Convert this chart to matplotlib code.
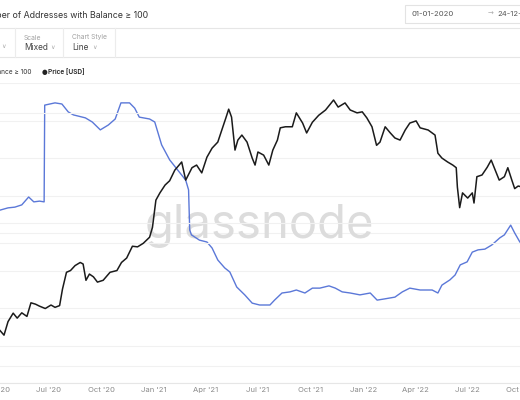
import numpy as np
import pandas as pd
import matplotlib
matplotlib.use("Agg")
import matplotlib.pyplot as plt
import matplotlib.dates as mdates
from matplotlib.ticker import FixedLocator, NullFormatter

plt.rcParams["font.family"] = ["Inter", "DejaVu Sans"]

# Addresses with balance >= 100 (left axis, linear)
addr_dates = [
    "2020-04-07", "2020-04-21", "2020-05-03", "2020-05-15", "2020-05-27", "2020-06-05",
    "2020-06-15", "2020-06-23", "2020-06-24", "2020-07-12", "2020-07-24", "2020-08-04",
    "2020-08-13", "2020-09-03", "2020-09-15", "2020-09-29", "2020-10-13", "2020-10-25",
    "2020-11-04", "2020-11-19", "2020-11-28", "2020-12-06", "2020-12-24", "2021-01-02",
    "2021-01-14", "2021-01-28", "2021-02-11", "2021-02-25", "2021-03-02", "2021-03-04",
    "2021-03-07", "2021-03-21", "2021-04-03", "2021-04-12", "2021-04-22", "2021-05-04",
    "2021-05-13", "2021-05-25", "2021-06-08", "2021-06-21", "2021-07-04", "2021-07-22",
    "2021-07-30", "2021-08-12", "2021-08-26", "2021-09-06", "2021-09-21", "2021-10-04",
    "2021-10-17", "2021-11-02", "2021-11-13", "2021-11-25", "2021-12-09", "2021-12-26",
    "2022-01-13", "2022-01-25", "2022-02-06", "2022-02-25", "2022-03-10", "2022-03-23",
    "2022-04-10", "2022-05-01", "2022-05-11", "2022-05-18", "2022-06-01", "2022-06-10",
    "2022-06-19", "2022-07-01", "2022-07-10", "2022-07-20", "2022-08-01", "2022-08-13",
    "2022-08-27", "2022-09-04", "2022-09-15", "2022-09-22", "2022-10-01",
]
addr_values = [
    45610, 45670, 45690, 45750, 45960, 45830,
    45850, 45830, 48410, 48470, 48440, 48230,
    48150, 48070, 47960, 47750, 47880, 48040,
    48470, 48470, 48330, 48090, 48040, 47960,
    47350, 46950, 46680, 46410, 46150, 45080,
    44950, 44810, 44760, 44600, 44280, 44070,
    43960, 43560, 43350, 43130, 43080, 43080,
    43210, 43400, 43430, 43480, 43400, 43530,
    43530, 43590, 43530, 43430, 43400, 43350,
    43400, 43210, 43240, 43290, 43430, 43530,
    43480, 43480, 43400, 43610, 43750, 43880,
    44150, 44230, 44490, 44550, 44570, 44680,
    44870, 44950, 45210, 45000, 44760,
]

# Price [USD] (right axis, log)
price_dates = [
    "2020-04-07", "2020-04-14", "2020-04-21", "2020-04-30", "2020-05-07", "2020-05-15",
    "2020-05-24", "2020-05-31", "2020-06-08", "2020-06-15", "2020-06-25", "2020-07-05",
    "2020-07-12", "2020-07-20", "2020-07-25", "2020-08-01", "2020-08-08", "2020-08-16",
    "2020-08-25", "2020-08-30", "2020-09-04", "2020-09-10", "2020-09-17", "2020-09-24",
    "2020-10-04", "2020-10-16", "2020-10-28", "2020-11-05", "2020-11-14", "2020-11-24",
    "2020-12-03", "2020-12-13", "2020-12-24", "2020-12-29", "2021-01-04", "2021-01-11",
    "2021-01-20", "2021-01-28", "2021-02-06", "2021-02-18", "2021-02-25", "2021-03-08",
    "2021-03-16", "2021-03-25", "2021-04-03", "2021-04-12", "2021-04-22", "2021-04-29",
    "2021-05-06", "2021-05-11", "2021-05-16", "2021-05-22", "2021-05-27", "2021-06-03",
    "2021-06-12", "2021-06-21", "2021-06-26", "2021-07-01", "2021-07-11", "2021-07-20",
    "2021-07-27", "2021-08-04", "2021-08-09", "2021-08-18", "2021-08-30", "2021-09-06",
    "2021-09-17", "2021-09-24", "2021-10-04", "2021-10-15", "2021-10-27", "2021-11-10",
    "2021-11-18", "2021-11-30", "2021-12-09", "2021-12-21", "2021-12-30", "2022-01-07",
    "2022-01-16", "2022-01-24", "2022-01-30", "2022-02-08", "2022-02-17", "2022-02-25",
    "2022-03-06", "2022-03-15", "2022-03-23", "2022-04-03", "2022-04-10", "2022-04-24",
    "2022-05-06", "2022-05-11", "2022-05-18", "2022-05-28", "2022-06-06", "2022-06-12",
    "2022-06-14", "2022-06-18", "2022-06-23", "2022-07-02", "2022-07-10", "2022-07-13",
    "2022-07-18", "2022-07-27", "2022-08-05", "2022-08-12", "2022-08-19", "2022-08-26",
    "2022-09-04", "2022-09-10", "2022-09-17", "2022-09-22", "2022-09-28", "2022-10-06",
]
price_values = [
    167, 156, 190, 215, 200, 216,
    205, 250, 245, 238, 230, 242,
    234, 240, 305, 390, 400, 430,
    450, 440, 347, 380, 365, 338,
    347, 390, 400, 450, 480, 570,
    565, 595, 650, 750, 1116, 1240,
    1390, 1480, 1728, 1945, 1494, 1790,
    1860, 1660, 2085, 2380, 2600, 3100,
    3690, 4200, 3740, 2314, 2677, 2880,
    2600, 2060, 1860, 2250, 2150, 1860,
    2314, 2677, 3200, 3250, 3250, 3980,
    3430, 2970, 3470, 3840, 4150, 4800,
    4330, 4600, 4150, 3980, 4040, 3700,
    3250, 2480, 2600, 3250, 2970, 2760,
    2677, 3100, 3430, 3540, 3200, 3100,
    2880, 2210, 2060, 1945, 1860, 1790,
    1350, 1000, 1240, 1150, 1240, 1070,
    1570, 1610, 1800, 2000, 1728, 1494,
    1570, 1790, 1494, 1320, 1370, 1350,
]

addr_grid = [41000, 42000, 43000, 44000, 45000, 46000, 47000, 48000, 49000]
price_grid = [100, 200, 600, 800, 4000]

W, H = 520, 400
def fx(px):
    return px / W
def fy(py):
    return 1 - py / H

fig = plt.figure(figsize=(5.2, 4.0), dpi=100)

# plot area (cropped on both sides like the screenshot)
left_px, right_px = -55.6, 568.0
ax = fig.add_axes([fx(left_px), fy(383), (right_px - left_px) / W, 300 / H])
ax2 = ax.twinx()

blue = "#5b78d8"
ax.plot(pd.to_datetime(addr_dates), addr_values, color=blue, lw=1.0, zorder=3)
ax2.plot(pd.to_datetime(price_dates), price_values, color="#1b1b1b", lw=1.1, zorder=3)

ax.set_xlim(pd.Timestamp("2020-01-01"), pd.Timestamp("2022-12-24"))
ax.set_ylim(41000, 49000)
ax2.set_yscale("log")
ax2.set_ylim(77.7, 6150)

ax.yaxis.set_major_locator(FixedLocator(addr_grid))
ax2.yaxis.set_major_locator(FixedLocator(price_grid))
ax2.yaxis.set_minor_locator(FixedLocator([]))
for a in (ax, ax2):
    a.yaxis.set_major_formatter(NullFormatter())
    a.yaxis.set_minor_formatter(NullFormatter())
    a.tick_params(axis="y", length=0)
    a.grid(axis="y", color="#f1f1f1", lw=0.8)
    a.set_axisbelow(True)
    for s in ("left", "right", "top"):
        a.spines[s].set_visible(False)
ax2.spines["bottom"].set_visible(False)
ax.spines["bottom"].set_color("#e6e6e6")
ax.spines["bottom"].set_linewidth(0.8)

ax.xaxis.set_major_locator(mdates.MonthLocator(bymonth=[1, 4, 7, 10]))
ax.xaxis.set_major_formatter(mdates.DateFormatter("%b '%y"))
ax.tick_params(axis="x", length=0, pad=3, labelsize=5.5, labelcolor="#8a8a8a")

# watermark
ax.text(fx(259), fy(226), "glassnode", transform=fig.transFigure, ha="center", va="center",
        fontsize=34, color="#dcdcdc", zorder=1)

# header
fig.text(fx(148), fy(15), "Number of Addresses with Balance \u2265 100", ha="right", va="center",
         fontsize=6.3, color="#333333")

# date range box
fig.patches.append(plt.Rectangle((fx(405), fy(23)), fx(130), 18 / H, transform=fig.transFigure,
                                 fill=False, edgecolor="#e3e3e3", lw=0.8))
fig.text(fx(412), fy(14), "01-01-2020", ha="left", va="center", fontsize=5.5, color="#555555")
fig.text(fx(488), fy(14), "\u2192", ha="left", va="center", fontsize=5, color="#aaaaaa",
         family=["DejaVu Sans"])
fig.text(fx(497), fy(14), "24-12-2022", ha="left", va="center", fontsize=5.5, color="#555555")

# separators
for py in (28, 57):
    fig.add_artist(plt.Line2D([0, 1], [fy(py), fy(py)], transform=fig.transFigure,
                              color="#e6e6e6", lw=0.8))
for px in (15, 63, 115):
    fig.add_artist(plt.Line2D([fx(px), fx(px)], [fy(28), fy(57)], transform=fig.transFigure,
                              color="#ececec", lw=0.8))

# controls
fig.text(fx(1), fy(47), "\u2228", ha="left", va="center", fontsize=4.5, color="#aaaaaa",
         family=["DejaVu Sans"])
fig.text(fx(24), fy(37.5), "Scale", ha="left", va="center", fontsize=4.8, color="#a0a0a0")
fig.text(fx(24), fy(47.5), "Mixed", ha="left", va="center", fontsize=6.0, color="#444444")
fig.text(fx(50), fy(47.5), "\u2228", ha="left", va="center", fontsize=4.5, color="#aaaaaa",
         family=["DejaVu Sans"])
fig.text(fx(72), fy(37.5), "Chart Style", ha="left", va="center", fontsize=4.8, color="#a0a0a0")
fig.text(fx(72), fy(47.5), "Line", ha="left", va="center", fontsize=6.0, color="#444444")
fig.text(fx(92), fy(47.5), "\u2228", ha="left", va="center", fontsize=4.5, color="#aaaaaa",
         family=["DejaVu Sans"])

# legend
fig.text(fx(31), fy(72), "\u25cf Balance \u2265 100", ha="right", va="center", fontsize=4.7,
         color="#333333")
fig.text(fx(42), fy(72), "\u25cf", ha="left", va="center", fontsize=4.7, color="#222222",
         family=["DejaVu Sans"])
fig.text(fx(48), fy(72), "Price [USD]", ha="left", va="center", fontsize=4.7, color="#222222",
         fontweight="semibold")

fig.savefig("out.png", dpi=100)
